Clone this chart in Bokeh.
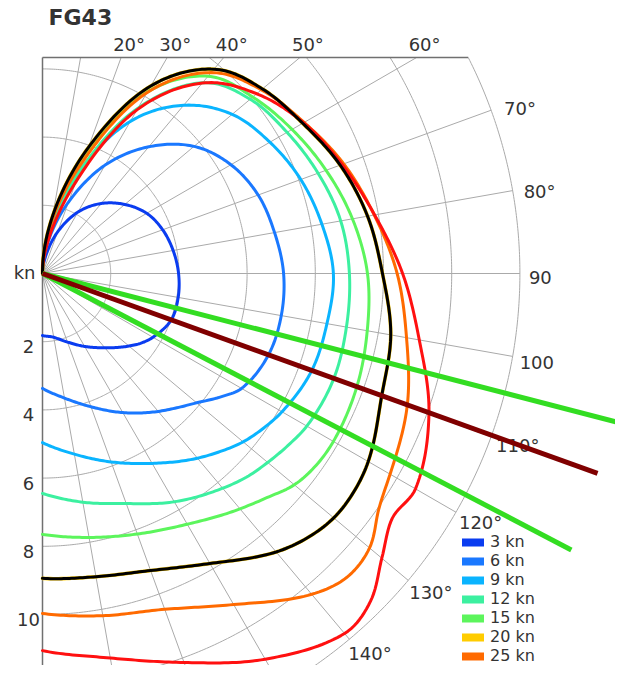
import numpy as np
from bokeh.plotting import figure
from bokeh.models import Range1d, Legend, LegendItem, ColumnDataSource
from bokeh.embed import file_html
from bokeh.resources import INLINE
from bokeh.core.properties import value

# ---------------- data ----------------
TITLE = "FG43"
ANGLES = [0, 10, 20, 30, 40, 50, 60, 70, 80, 90, 100, 110, 120, 125, 130, 135, 140,
          150, 160, 170, 180]  # true wind angle, degrees

SPEED_3 = [0, 0.50, 1.30, 2.08, 2.68, 3.15, 3.53, 3.75, 3.89, 3.99, 4.04, 4.01, 3.74,
           3.55, 3.31, 3.07, 2.84, 2.47, 2.14, 1.90, 1.82]
SPEED_6 = [0, 0.95, 2.23, 3.67, 4.85, 5.80, 6.38, 6.73, 6.91, 7.07, 7.11, 7.04, 6.74,
           6.33, 5.90, 5.57, 5.28, 4.71, 4.16, 3.71, 3.37]
SPEED_9 = [0, 1.10, 3.20, 5.15, 6.44, 7.26, 7.70, 8.06, 8.32, 8.53, 8.47, 8.39, 8.11,
           7.91, 7.68, 7.38, 7.07, 6.43, 5.88, 5.38, 4.96]
SPEED_12 = [0, 1.30, 3.20, 5.60, 7.30, 7.95, 8.28, 8.60, 8.88, 9.00, 9.05, 9.08, 8.95,
            8.79, 8.62, 8.45, 8.22, 7.73, 7.18, 6.81, 6.45]
SPEED_15 = [0, 1.65, 3.80, 6.15, 7.55, 8.05, 8.45, 8.85, 9.23, 9.53, 9.67, 9.80, 9.85,
            9.80, 9.64, 9.30, 9.01, 8.49, 8.13, 7.86, 7.65]
SPEED_20 = [0, 1.72, 3.93, 6.35, 7.82, 8.42, 8.81, 9.29, 9.68, 9.97, 10.37, 10.58, 11.03,
            11.15, 11.15, 10.97, 10.66, 9.82, 9.27, 9.03, 8.94]
SPEED_25 = [0, 1.55, 3.54, 6.12, 7.69, 8.38, 8.86, 9.40, 9.88, 10.40, 10.84, 11.38, 11.77,
            12.04, 12.52, 12.61, 12.28, 11.21, 10.48, 10.19, 9.97]
SPEED_30 = [0, 1.00, 2.86, 5.54, 7.29, 8.20, 8.84, 9.35, 9.89, 10.56, 11.22, 12.06, 12.63,
            12.52, 12.99, 13.60, 13.78, 13.06, 12.14, 11.45, 11.06]

SERIES_LABELS = ["3 kn", "6 kn", "9 kn", "12 kn", "15 kn", "20 kn", "25 kn", "30 kn"]
SERIES_VALUES = [SPEED_3, SPEED_6, SPEED_9, SPEED_12, SPEED_15, SPEED_20, SPEED_25, SPEED_30]
SERIES_COLORS = ["#0a3cf0", "#1a78ff", "#0ab4ff", "#3cf0a0", "#5cf55c", "#ffcc00", "#ff6a00", "#ff1010"]
LEGEND_SHOWN = 7           # entries visible in the picture
HIGHLIGHT_SERIES = "20 kn"  # current wind, drawn again in black

RING_TICKS = [2, 4, 6, 8, 10, 12, 14]
RADIAL_LABELS = [2, 4, 6, 8, 10]
RADIAL_UNIT = "kn"
ANGLE_TICKS = list(range(0, 181, 10))
TOP_ANGLE_TICKS = [20, 30, 40, 50, 60]
TOP_ANGLE_TEXT = ["20°", "30°", "40°", "50°", "60°"]
SIDE_ANGLE_TICKS = [70, 80, 90, 100, 110, 120, 130, 140]
SIDE_ANGLE_TEXT = ["70°", "80°", "90", "100", "110°", "120°", "130°", "140°"]

COURSE_ANGLES = [104.5, 117.6, 109.8]
COURSE_LENGTHS = [17.75, 17.5, 17.3]
COURSE_COLORS = ["#33dd22", "#33dd22", "#800000"]

# ---------------- geometry / style ----------------
S = 34.1            # pixels per knot
W, H = 615, 665
OX, OY = 42, 273    # origin in canvas pixels
TOP_PX = 57         # top edge of the pane (canvas px)
R_MAX = 14
FONT = "DejaVu Sans"
TXT = "#333333"
GRID = "#aaaaaa"

YTOP = (OY - TOP_PX) / S


def px2x(px):
    return (px - OX) / S


def py2y(py):
    return (OY - py) / S


def polar(a_deg, r):
    a = np.radians(np.asarray(a_deg, dtype=float))
    r = np.asarray(r, dtype=float)
    return r * np.sin(a), r * np.cos(a)


def spline_polar(ang, rad, step=0.5):
    """Cubic Hermite spline of speed over angle (drawing only)."""
    a = np.asarray(ang, float)
    r = np.asarray(rad, float)
    m = np.zeros_like(r)
    m[1:-1] = (r[2:] - r[:-2]) / (a[2:] - a[:-2])
    m[0] = (r[1] - r[0]) / (a[1] - a[0])
    m[-1] = (r[-1] - r[-2]) / (a[-1] - a[-2])
    oa, orr = [], []
    for i in range(len(a) - 1):
        h = a[i + 1] - a[i]
        t = np.linspace(0, 1, max(2, int(h / step)), endpoint=False)
        h00 = 2 * t ** 3 - 3 * t ** 2 + 1
        h10 = t ** 3 - 2 * t ** 2 + t
        h01 = -2 * t ** 3 + 3 * t ** 2
        h11 = t ** 3 - t ** 2
        oa.append(a[i] + t * h)
        orr.append(h00 * r[i] + h10 * h * m[i] + h01 * r[i + 1] + h11 * h * m[i + 1])
    oa.append([a[-1]])
    orr.append([r[-1]])
    return polar(np.concatenate(oa), np.concatenate(orr))


p = figure(width=W, height=H, output_backend="svg", toolbar_location=None, tools="",
           x_range=Range1d(-OX / S, (W - OX) / S), y_range=Range1d(-(H - OY) / S, OY / S),
           x_axis_location=None, y_axis_location=None, min_border=0, title=None)
p.outline_line_color = None
p.grid.visible = False
p.background_fill_color = "white"

# grid circles (clipped at top edge)
cx, cy = [], []
for r in RING_TICKS:
    phi0 = np.arccos(min(1.0, YTOP / r))
    phi = np.linspace(phi0, np.pi, 300)
    cx.append(list(r * np.sin(phi)))
    cy.append(list(r * np.cos(phi)))
p.multi_line(cx, cy, line_color=GRID, line_width=1)

# radial grid lines
rx0, ry0, rx1, ry1 = [], [], [], []
for a in ANGLE_TICKS[1:-1]:
    c = np.cos(np.radians(a))
    rmax = R_MAX if c <= 0 else min(R_MAX, YTOP / c)
    x1, y1 = polar(a, rmax)
    rx0.append(0); ry0.append(0); rx1.append(float(x1)); ry1.append(float(y1))
p.segment(rx0, ry0, rx1, ry1, line_color=GRID, line_width=1)

# pane border: top edge and radial axis line
xtop = np.sqrt(R_MAX ** 2 - YTOP ** 2)
p.segment([0], [YTOP], [xtop], [YTOP], line_color="#707070", line_width=1.5)
p.segment([0], [YTOP], [0], [-R_MAX], line_color="#707070", line_width=1.5)

# polar curves
for lab, vals, col in zip(SERIES_LABELS, SERIES_VALUES, SERIES_COLORS):
    sx, sy = spline_polar(ANGLES, vals)
    lw = 3.6 if lab == HIGHLIGHT_SERIES else 3
    p.line(sx, sy, line_color=col, line_width=lw, line_join="round", line_cap="round")
hv = SERIES_VALUES[SERIES_LABELS.index(HIGHLIGHT_SERIES)]
sx, sy = spline_polar(ANGLES, hv)
p.line(sx, sy, line_color="black", line_width=3, line_join="round", line_cap="round")

# angle labels at the top edge
tx = [YTOP * np.tan(np.radians(a)) for a in TOP_ANGLE_TICKS]
p.text(x=tx, y=[YTOP] * len(tx), text=TOP_ANGLE_TEXT, x_offset=8, y_offset=-13,
       text_align="center", text_baseline="middle", text_font=value(FONT),
       text_font_size="18px", text_color=TXT)

# angle labels on the outer circle
sx_, sy_ = polar(SIDE_ANGLE_TICKS, [R_MAX] * len(SIDE_ANGLE_TICKS))
src = ColumnDataSource(dict(
    x=list(sx_), y=list(sy_), t=SIDE_ANGLE_TEXT,
    xo=[13 - (a - 70) / 5 for a in SIDE_ANGLE_TICKS],
    yo=[3.5 - 14 * np.cos(np.radians(a)) for a in SIDE_ANGLE_TICKS]))
p.text(x="x", y="y", text="t", x_offset="xo", y_offset="yo", source=src,
       text_align="left", text_baseline="middle", text_font=value(FONT),
       text_font_size="18px", text_color=TXT)

# radial labels
p.text(x=[0] * len(RADIAL_LABELS), y=[-v for v in RADIAL_LABELS],
       text=[str(v) for v in RADIAL_LABELS], x_offset=-14, y_offset=5,
       text_align="center", text_baseline="middle", text_font=value(FONT),
       text_font_size="18px", text_color=TXT)
p.text(x=[0], y=[0], text=[RADIAL_UNIT], x_offset=-7, y_offset=-1,
       text_align="right", text_baseline="middle", text_font=value(FONT),
       text_font_size="18px", text_color=TXT)

# course lines
cx1, cy1 = polar(COURSE_ANGLES, COURSE_LENGTHS)
p.segment([0] * 3, [0] * 3, list(cx1), list(cy1), line_color=COURSE_COLORS,
          line_width=5)

# title
p.text(x=[px2x(48)], y=[py2y(17)], text=[TITLE], text_align="left",
       text_baseline="middle", text_font=value(FONT), text_font_style="bold",
       text_font_size="22px", text_color=TXT)

# legend with thick swatches (swatch renderers hold points outside the view)
items = []
for lab, col in zip(SERIES_LABELS[:LEGEND_SHOWN], SERIES_COLORS[:LEGEND_SHOWN]):
    rr = p.line(x=[-5, -4.9], y=[-30, -30], line_color=col, line_width=8, line_cap="round")
    items.append(LegendItem(label=lab, renderers=[rr]))
legend = Legend(items=items, location=(462, 0),
                orientation="vertical", padding=0, margin=0, spacing=0,
                glyph_width=22, glyph_height=18, label_height=18, label_standoff=6,
                label_text_font=FONT, label_text_font_size="16px",
                label_text_color=TXT,
                border_line_alpha=0, background_fill_alpha=0)
p.add_layout(legend)

open("out.html", "w").write(file_html(p, INLINE))
